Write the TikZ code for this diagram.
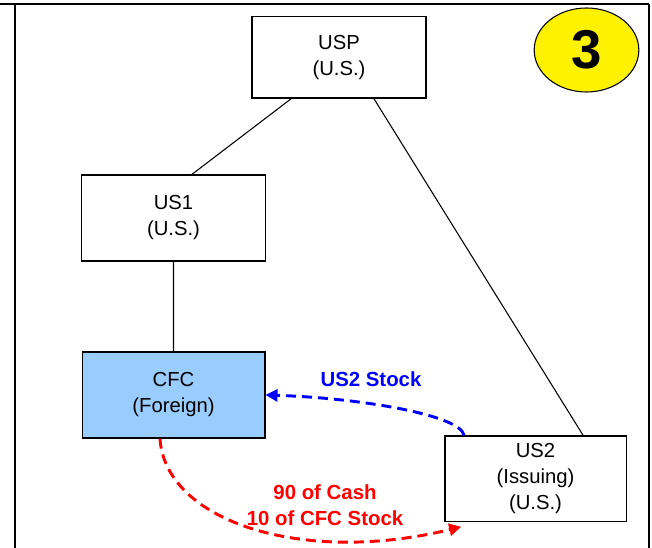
\documentclass[tikz,border=0pt]{standalone}
\usepackage{fontspec}
\setmainfont{Liberation Sans}
\usetikzlibrary{calc,arrows.meta,shapes.geometric}

\begin{document}
\begin{tikzpicture}[x=0.75pt,y=-0.75pt,
    firm/.style={draw,line width=1pt,align=center,inner sep=0pt,font=\fontsize{15.2}{19.5}\selectfont},
    flow/.style={line width=2.2pt,dash pattern=on 7.5pt off 4.5pt,-{Triangle[length=9pt,width=9pt]}},
    flowlbl/.style={align=center,inner sep=0pt,font=\fontsize{15.3}{19.5}\selectfont\bfseries}]
    \useasboundingbox (0,0) rectangle (652,548);
    \draw[line width=2pt] (0,4)--(649,4) (15,4)--(15,548) (649,4)--(649,548);% khung
    % cac cong ty
    \node[firm,minimum width=130.5pt,minimum height=61pt] (usp) at (339,57.5) {USP\\(U.S.)};
    \node[firm,minimum width=138pt,minimum height=64.5pt] (us1) at (173.5,218) {US1\\(U.S.)};
    \node[firm,fill={rgb,255:red,153;green,204;blue,255},minimum width=137pt,minimum height=64.5pt] (cfc) at (173.5,395) {CFC\\(Foreign)};
    \node[firm,minimum width=136pt,minimum height=64pt] (us2) at (535.5,478.5) {US2\\(Issuing)\\(U.S.)};
    \node[ellipse,draw,line width=0.8pt,fill=yellow,minimum width=78.5pt,minimum height=63pt,inner sep=0pt,font=\fontsize{41}{41}\selectfont\bfseries] (num) at (586.5,50) {3};
    % duong noi
    \draw[line width=0.8pt] ($(usp.south)+(-48,0)$)--($(us1.north)+(18.5,0)$)
        ($(usp.south)+(35,0)$)--($(us2.north)+(47.5,0)$)
        (us1.south)--(cfc.north);
    % mui ten giao dich
    \draw[flow,blue] ($(us2.north)+(-71.5,0)$) .. controls (460,415) and (360,398) .. (cfc.east);
    \draw[flow,red] ($(cfc.south)+(-13.5,0)$) .. controls (165,520) and (300,566) .. ($(us2.south west)+(17,5)$);
    \node[flowlbl,blue] (lblstock) at (371,379) {US2 Stock};
    \node[flowlbl,red] (lblcash) at (325,505) {90 of Cash\\10 of CFC Stock};
\end{tikzpicture}
\end{document}
